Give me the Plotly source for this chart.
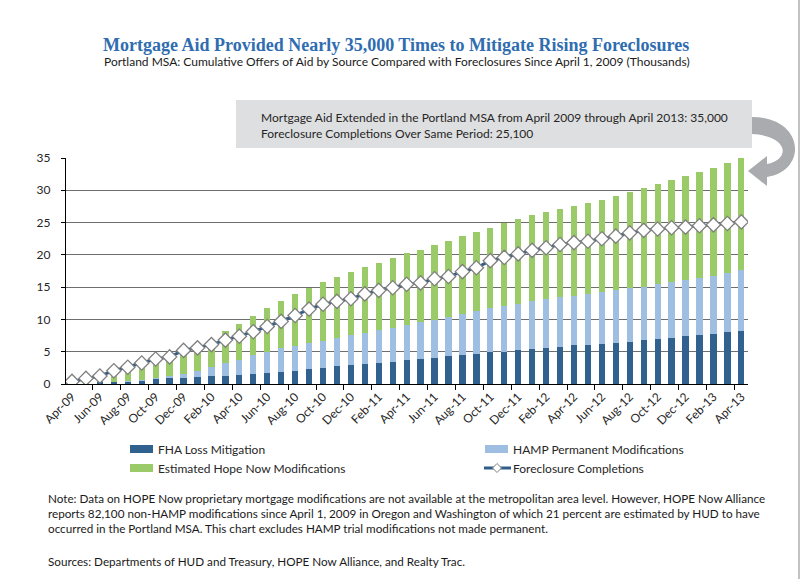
import plotly.graph_objects as go

months = ["Apr-09","May-09","Jun-09","Jul-09","Aug-09","Sep-09","Oct-09","Nov-09","Dec-09",
          "Jan-10","Feb-10","Mar-10","Apr-10","May-10","Jun-10","Jul-10","Aug-10","Sep-10","Oct-10","Nov-10","Dec-10",
          "Jan-11","Feb-11","Mar-11","Apr-11","May-11","Jun-11","Jul-11","Aug-11","Sep-11","Oct-11","Nov-11","Dec-11",
          "Jan-12","Feb-12","Mar-12","Apr-12","May-12","Jun-12","Jul-12","Aug-12","Sep-12","Oct-12","Nov-12","Dec-12",
          "Jan-13","Feb-13","Mar-13","Apr-13"]

fha = [0, 0.05, 0.26, 0.36, 0.45, 0.6, 0.8, 0.88, 0.95,
       1.08, 1.18, 1.29, 1.47, 1.55, 1.65, 1.9, 2.07, 2.3, 2.43, 2.74, 3.0,
       3.15, 3.3, 3.46, 3.7, 3.88, 4.08, 4.29, 4.44, 4.7, 4.9, 5.0, 5.2,
       5.48, 5.63, 5.79, 5.97, 6.1, 6.25, 6.4, 6.56, 6.77, 7.03, 7.18, 7.4,
       7.65, 7.8, 8.1, 8.27]

hamp = [0, 0, 0, 0, 0.02, 0.05, 0.2, 0.37, 0.6,
        0.98, 1.42, 1.96, 2.28, 2.95, 3.25, 3.6, 3.83, 4.06, 4.24, 4.39, 4.6,
        4.75, 5.0, 5.24, 5.45, 5.68, 5.89, 6.15, 6.46, 6.6, 6.9, 7.1, 7.25,
        7.32, 7.47, 7.61, 7.68, 7.8, 7.95, 8.1, 8.24, 8.33, 8.47, 8.62, 8.7,
        8.75, 9.0, 9.1, 9.33]

hope_now = [0.03, 0.1, 0.44, 1.09, 1.53, 1.95, 2.3, 3.35, 3.55,
            3.64, 4.1, 5.01, 5.55, 6.1, 6.9, 7.4, 8.05, 8.54, 9.13, 9.47, 9.8,
            10.2, 10.5, 10.8, 11.15, 11.24, 11.53, 11.76, 12.05, 12.2, 12.4, 12.8, 13.05,
            13.3, 13.5, 13.7, 13.85, 14.16, 14.3, 14.6, 14.9, 15.2, 15.5, 15.8, 16.15,
            16.5, 16.7, 17.1, 17.4]

foreclosures = [0.4, 0.87, 1.24, 2.06, 2.6, 3.25, 3.87, 4.2, 5.2,
                5.6, 6.1, 6.8, 7.4, 8.1, 8.9, 9.7, 10.6, 11.6, 12.35, 12.8, 13.2,
                13.95, 14.5, 14.9, 15.45, 15.66, 16.3, 16.64, 17.4, 18.0, 19.1, 19.6, 20.15,
                20.7, 21.1, 21.6, 21.9, 22.1, 22.5, 22.9, 23.4, 23.8, 24.0, 24.2, 24.3,
                24.5, 24.65, 24.86, 25.1]

y_ticks = [0, 5, 10, 15, 20, 25, 30, 35]

C_FHA = "#31618F"
C_HAMP = "#9EBFE2"
C_HOPE = "#9BCA69"
C_LINE = "#2E5D8C"

idx = list(range(len(months)))
tick_idx = idx[::2]
tick_txt = months[::2]

fig = go.Figure()
fig.add_trace(go.Bar(x=idx, y=fha, marker=dict(color=C_FHA, line_width=0), width=0.45,
                     name="FHA Loss Mitigation", showlegend=False))
fig.add_trace(go.Bar(x=idx, y=hamp, marker=dict(color=C_HAMP, line_width=0), width=0.45,
                     name="HAMP Permanent Modifications", showlegend=False))
fig.add_trace(go.Bar(x=idx, y=hope_now, marker=dict(color=C_HOPE, line_width=0), width=0.45,
                     name="Estimated Hope Now Modifications", showlegend=False))
fig.add_trace(go.Scatter(x=idx, y=foreclosures, mode="lines+markers", name="Foreclosure Completions",
                         line=dict(color=C_LINE, width=3),
                         marker=dict(symbol="diamond", size=11, color="white",
                                     line=dict(color="#7F7F7F", width=1.3)),
                         showlegend=False))

L, R, T, B = 66, 748, 158, 384
W, H = R - L, B - T

def px(x):
    return (x - L) / W

def py(y):
    return (B - y) / H

FONT = "Lato, Carlito, Calibri, sans-serif"

shapes = []
annotations = []

# Title and subtitle
annotations.append(dict(text="<b>Mortgage Aid Provided Nearly 35,000 Times to Mitigate Rising Foreclosures</b>",
                        x=px(396), y=py(45), xref="paper", yref="paper", xanchor="center", yanchor="middle",
                        showarrow=False, font=dict(family="Liberation Serif, Georgia, serif", size=18, color="#2F6DB0")))
annotations.append(dict(text="Portland MSA: Cumulative Offers of Aid by Source Compared with Foreclosures Since April 1, 2009 (Thousands)",
                        x=px(397), y=py(61), xref="paper", yref="paper", xanchor="center", yanchor="middle",
                        showarrow=False, font=dict(family=FONT, size=12, color="#1a1a1a")))

# Callout box
shapes.append(dict(type="rect", xref="paper", yref="paper", x0=px(236), x1=px(752), y0=py(148), y1=py(100),
                   fillcolor="#DEDFE1", line=dict(width=0), layer="below"))
annotations.append(dict(text="Mortgage Aid Extended in the Portland MSA from April 2009 through April 2013: 35,000<br>Foreclosure Completions Over Same Period: 25,100",
                        x=px(259), y=py(125), xref="paper", yref="paper", xanchor="left", yanchor="middle", align="left",
                        showarrow=False, font=dict(family=FONT, size=12, color="#262626")))

# Curved arrow
def P(x, y):
    return f"{px(x):.5f},{py(y):.5f}"

path = ("M " + P(752, 117) +
        " C " + P(805, 117) + " " + P(808, 171) + " " + P(767, 177) +
        " L " + P(767, 186) + " L " + P(748, 171) + " L " + P(767, 156) + " L " + P(767, 164) +
        " C " + P(790, 160) + " " + P(790, 136) + " " + P(752, 134) + " Z")
shapes.append(dict(type="path", xref="paper", yref="paper", path=path, fillcolor="#A9ABAE",
                   line=dict(width=0)))

# Right page border
shapes.append(dict(type="line", xref="paper", yref="paper", x0=px(799), x1=px(799), y0=py(579), y1=py(0),
                   line=dict(color="#9A9A9A", width=1.2)))

# Legend
def swatch(x, y, color):
    shapes.append(dict(type="rect", xref="paper", yref="paper", x0=px(x), x1=px(x + 23), y0=py(y + 4), y1=py(y - 4),
                       fillcolor=color, line=dict(width=0)))

def legtext(x, y, t):
    annotations.append(dict(text=t, x=px(x), y=py(y), xref="paper", yref="paper", xanchor="left", yanchor="middle",
                            showarrow=False, font=dict(family=FONT, size=12, color="#262626")))

swatch(130, 449, C_FHA)
legtext(156, 449, "FHA Loss Mitigation")
swatch(130, 468, C_HOPE)
legtext(156, 468, "Estimated Hope Now Modifications")
swatch(485, 449, C_HAMP)
legtext(511, 449, "HAMP Permanent Modifications")
shapes.append(dict(type="line", xref="paper", yref="paper", x0=px(484), x1=px(511), y0=py(468), y1=py(468),
                   line=dict(color=C_LINE, width=3)))
dpath = "M " + P(497, 463.5) + " L " + P(501.5, 468) + " L " + P(497, 472.5) + " L " + P(492.5, 468) + " Z"
shapes.append(dict(type="path", xref="paper", yref="paper", path=dpath, fillcolor="white",
                   line=dict(color="#7F7F7F", width=1)))
legtext(511, 468, "Foreclosure Completions")

# Notes
notes = ("Note: Data on HOPE Now proprietary mortgage modifications are not available at the metropolitan area level. However, HOPE Now Alliance<br>"
         "reports 82,100 non-HAMP modifications since April 1, 2009 in Oregon and Washington of which 21 percent are estimated by HUD to have<br>"
         "occurred in the Portland MSA. This chart excludes HAMP trial modifications not made permanent.")
annotations.append(dict(text=notes, x=px(46), y=py(489), xref="paper", yref="paper", xanchor="left", yanchor="top",
                        align="left", showarrow=False, font=dict(family=FONT, size=11.7, color="#1a1a1a")))
annotations.append(dict(text="Sources: Departments of HUD and Treasury, HOPE Now Alliance, and Realty Trac.",
                        x=px(46), y=py(561), xref="paper", yref="paper", xanchor="left", yanchor="middle",
                        align="left", showarrow=False, font=dict(family=FONT, size=11.7, color="#1a1a1a")))

fig.update_layout(
    barmode="stack",
    width=804, height=579,
    margin=dict(l=L, r=804 - R, t=T, b=579 - B, pad=0),
    paper_bgcolor="white", plot_bgcolor="white",
    showlegend=False,
    bargap=0.5,
    shapes=shapes,
    annotations=annotations,
    font=dict(family=FONT, color="#262626"),
)
fig.update_xaxes(range=[-0.43, len(months) - 1 + 0.48], tickmode="array", tickvals=tick_idx, ticktext=tick_txt,
                 tickangle=-45, ticks="", showgrid=False, zeroline=False,
                 showline=True, linecolor="#000000", linewidth=1.2,
                 tickfont=dict(family=FONT, size=12, color="#262626"),
                 minor=dict(ticks="outside", tick0=-0.5, dtick=2, ticklen=5, tickcolor="#000000", tickwidth=1, showgrid=False))
fig.update_yaxes(range=[0, 35], tickmode="array", tickvals=y_ticks, ticks="outside", ticklen=4,
                 tickcolor="#000000", showgrid=True, gridcolor="#6E6E6E", gridwidth=1.2, zeroline=False,
                 showline=True, linecolor="#000000", linewidth=1.2, ticklabelstandoff=8,
                 tickfont=dict(family=FONT, size=12, color="#262626"))

fig.write_html("out.html", config={"displayModeBar": False},
               post_script="document.body.style.margin='0';document.body.style.overflow='hidden';")
